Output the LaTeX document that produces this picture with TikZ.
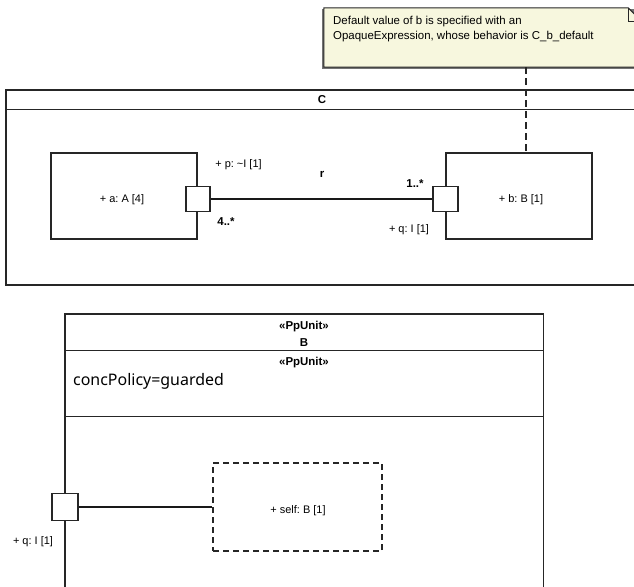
\documentclass[tikz,border=0pt]{standalone}
\usepackage{fontspec}
\setmainfont{Liberation Sans}
\newfontfamily\uifont{Noto Sans}
\definecolor{notefill}{RGB}{247,247,222}
\frenchspacing
\begin{document}
\begin{tikzpicture}[x=1bp,y=-1bp,
  box/.style={draw=black!85,line width=1.3bp,inner sep=0pt},
  portbox/.style={draw=black!85,fill=white,line width=1.3bp,inner sep=0pt},
  selfbox/.style={draw=black!85,line width=1.3bp,inner sep=0pt,dash pattern=on 6bp off 4bp},
  lbl/.style={font=\fontsize{11}{13}\selectfont,inner sep=0pt},
  blbl/.style={font=\bfseries\fontsize{11.5}{13}\selectfont,inner sep=0pt},
  conn/.style={line width=2bp,black!90},
  notelink/.style={line width=1.2bp,black!85,dash pattern=on 7bp off 4bp},
]
\useasboundingbox (0,0) rectangle (634,587);
\clip (0,0) rectangle (634,587);

% note
\node[minimum width=318bp,minimum height=59bp,inner sep=0pt] (note) at (483,37.5) {};
\fill[black!55] ([xshift=-1.5bp,yshift=-1.5bp]note.north west) rectangle ([xshift=-1.5bp,yshift=-1.5bp]note.south east);
\filldraw[fill=notefill,draw=black!85,line width=1bp]
  (note.north west) -- ([xshift=-14bp]note.north east) -- ([yshift=-14bp]note.north east)
  -- (note.south east) -- (note.south west) -- cycle;
\draw[black!85,line width=1bp] ([xshift=-14bp]note.north east) |- ([yshift=-14bp]note.north east);
\node[anchor=north west,align=left,font=\fontsize{11.5}{15.5}\selectfont,inner sep=0pt] (notetext) at (333,16)
  {Default value of b is specified with an\\OpaqueExpression, whose behavior is C\_b\_default};

% class C
\node[box,minimum width=632bp,minimum height=195bp] (C) at (322,187.5) {};
\draw[box] ([yshift=-20bp]C.north west) -- ([yshift=-20bp]C.north east);
\node[blbl] (Cname) at (322,100) {C};

% note link
\coordinate (nl) at (526,153);
\draw[notelink] (note.south -| nl) -- (nl);

% parts
\node[box,minimum width=146bp,minimum height=86bp] (a) at (124,196) {};
\node[lbl] (atext) at (122,200) {+ a: A [4]};
\node[box,minimum width=146bp,minimum height=86bp] (b) at (519,196) {};
\node[lbl] (btext) at (521,200) {+ b: B [1]};
\node[portbox,minimum width=24bp,minimum height=25bp] (p) at (198,199) {};
\node[portbox,minimum width=25bp,minimum height=25bp] (q) at (445.5,199) {};
\draw[conn] (p) -- (q);
\node[lbl] (plbl) at (238.5,165) {+ p: \textasciitilde I [1]};
\node[blbl] (pmult) at (226,222) {4..*};
\node[blbl] (qmult) at (415,184) {1..*};
\node[lbl] (qlbl) at (409,230) {+ q: I [1]};
\node[blbl] (rlbl) at (322,174) {r};

% class B
\node[box,minimum width=478.5bp,minimum height=290bp] (B) at (304.25,459) {};
\draw[box] ([yshift=-37bp]B.north west) -- ([yshift=-37bp]B.north east);
\draw[box] ([yshift=-103bp]B.north west) -- ([yshift=-103bp]B.north east);
\node[blbl] (Bst) at (304,327) {«PpUnit»};
\node[blbl] (Bname) at (304,343) {B};
\node[blbl] (Bst2) at (304,363) {«PpUnit»};
\node[anchor=west,inner sep=0pt,font=\uifont\fontsize{16}{18}\selectfont] (Bconc) at (73,381) {concPolicy=guarded};

\node[selfbox,minimum width=169bp,minimum height=88bp] (self) at (297.5,507) {};
\node[lbl] (selftext) at (298,511) {+ self: B [1]};
\node[portbox,minimum width=26bp,minimum height=27bp] (qb) at (65,507) {};
\draw[conn] (qb) -- (self);
\node[lbl] (qblbl) at (33,542) {+ q: I [1]};
\end{tikzpicture}
\end{document}
